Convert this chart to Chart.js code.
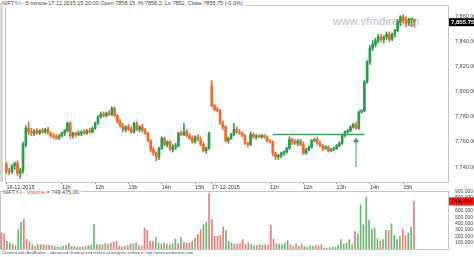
<!DOCTYPE html>
<html>
<head>
<meta charset="utf-8">
<script src="https://cdn.jsdelivr.net/npm/chart.js@4.4.0/dist/chart.umd.min.js"></script>
<style>
  body { margin: 0; background: #fff; width: 474px; height: 257px; overflow: hidden; position: relative; font-family: "Liberation Sans", Arial, sans-serif; }
  .box { position: absolute; left: 0; width: 474px; }
  .txt { position: absolute; white-space: nowrap; color: #333; }
  #strip { position: absolute; left: 0; top: 3px; width: 3px; height: 179px; background: #d9d9d9; }
  #wm { left: 333px; top: 15px; font-size: 11.5px; color: #bdbdbd; }
  #title { left: 2px; top: 0; font-size: 5.5px; line-height: 7px; background: #fff; padding-right: 2px; color: #444; }
  #volTitle { left: 3px; top: 189px; font-size: 5.5px; line-height: 6px; background: #fff; padding-right: 2px; color: #444; }
  #volTitle span { color: #f04848; }
  #foot { left: 2px; top: 250px; font-size: 4.2px; line-height: 6px; color: #555; }
</style>
</head>
<body>
<div id="strip"></div>
<div class="txt" id="wm">www.vfmdirect.in</div>
<div class="box" style="top:0;height:190px"><canvas id="priceChart" width="474" height="190"></canvas></div>
<div class="box" style="top:186px;height:64px"><canvas id="volChart" width="474" height="64"></canvas></div>
<div class="txt" id="title">NIFTY-I - 5 minute 17.12.2015 15:20:00 Open 7858.15, Hi 7858.2, Lo 7852, Close 7855.75 (-0.0%)</div>
<div class="txt" id="volTitle">NIFTY-I - <span>Volume</span> = 749,475.00</div>
<div class="txt" id="foot">Created with AmiBroker - advanced charting and technical analysis software. http://www.amibroker.com</div>
<script>
// two sessions of 5 minute bars
const days = ["16-12-2015", "17-12-2015"];
const firstBar = ["09:20", "09:15"];
const barsPerDay = [74, 74];
const emptyBars = 12;
const hourTicks = ["11:00", "12:00", "13:00", "14:00", "15:00"];
const hourNames = ["11h", "12h", "13h", "14h", "15h"];
const priceTicks = [7740, 7760, 7780, 7800, 7820, 7840, 7860];
const volumeTicks = [100000, 200000, 300000, 400000, 500000, 600000, 700000, 800000, 900000];

const open = [
  7742, 7737, 7736, 7741, 7743, 7735, 7737, 7758, 7771, 7768, 7767, 7769, 7767, 7769, 7768, 7770, 7767, 7765, 7764, 7763,
  7765, 7767, 7769, 7775, 7765, 7767, 7766, 7767, 7768, 7767, 7769, 7768, 7771, 7775, 7780, 7782, 7781, 7783, 7782, 7787,
  7781, 7776, 7773, 7770, 7772, 7770, 7768, 7775, 7770, 7772, 7769, 7767, 7761, 7754, 7751, 7748, 7755, 7763, 7758, 7760,
  7754, 7756, 7757, 7767, 7766, 7768, 7765, 7763, 7760, 7764, 7762, 7758, 7753, 7755,
  7805, 7789, 7786, 7785, 7775, 7772, 7761, 7763, 7766, 7770, 7768, 7767, 7765, 7759, 7758, 7766, 7764, 7765, 7764, 7765,
  7764, 7761, 7760, 7751, 7748, 7749, 7751, 7752, 7755, 7762, 7760, 7759, 7761, 7758, 7751, 7754, 7756, 7761, 7762, 7759,
  7757, 7755, 7756, 7753, 7754, 7755, 7757, 7759, 7765, 7768, 7769, 7772, 7774, 7771, 7784, 7785, 7808, 7824, 7835, 7838,
  7841, 7844, 7842, 7844, 7846, 7842, 7846, 7849, 7856, 7860, 7857, 7855, 7858, 7858.15
];
const high = [
  7744, 7739, 7742, 7744, 7745, 7739, 7760, 7773, 7776, 7771, 7770, 7771, 7770, 7771, 7771, 7772, 7768, 7767, 7766, 7766,
  7768, 7770, 7776, 7776, 7768, 7768, 7769, 7769, 7770, 7770, 7771, 7772, 7776, 7781, 7784, 7784, 7784, 7785, 7788, 7788,
  7782, 7778, 7775, 7773, 7774, 7772, 7776, 7776, 7773, 7774, 7771, 7768, 7762, 7756, 7752, 7756, 7764, 7764, 7761, 7761,
  7758, 7759, 7768, 7769, 7775, 7770, 7767, 7765, 7765, 7766, 7764, 7760, 7756, 7768,
  7809, 7790, 7788, 7786, 7777, 7773, 7764, 7767, 7775, 7772, 7770, 7768, 7766, 7760, 7768, 7767, 7766, 7766, 7766, 7766,
  7765, 7762, 7761, 7752, 7750, 7752, 7753, 7756, 7764, 7763, 7762, 7762, 7762, 7760, 7755, 7757, 7762, 7763, 7764, 7761,
  7758, 7757, 7757, 7755, 7756, 7758, 7760, 7766, 7769, 7770, 7773, 7775, 7776, 7785, 7786, 7809, 7825, 7837, 7841, 7843,
  7846, 7846, 7845, 7848, 7848, 7847, 7850, 7858, 7861, 7862, 7860, 7859, 7859, 7858.2
];
const low = [
  7735, 7734, 7735, 7738, 7733, 7731, 7735, 7756, 7766, 7765, 7765, 7766, 7766, 7767, 7767, 7766, 7764, 7763, 7762, 7762,
  7764, 7765, 7768, 7763, 7763, 7764, 7765, 7765, 7766, 7766, 7767, 7767, 7770, 7774, 7779, 7780, 7780, 7781, 7781, 7780,
  7775, 7772, 7768, 7768, 7769, 7767, 7767, 7769, 7768, 7768, 7766, 7760, 7752, 7749, 7745, 7746, 7754, 7757, 7756, 7753,
  7752, 7754, 7756, 7765, 7765, 7764, 7762, 7759, 7759, 7761, 7757, 7752, 7751, 7754,
  7788, 7785, 7784, 7774, 7770, 7760, 7759, 7762, 7765, 7767, 7766, 7764, 7758, 7756, 7757, 7763, 7762, 7763, 7763, 7763,
  7760, 7759, 7749, 7746, 7746, 7747, 7749, 7751, 7754, 7758, 7758, 7757, 7757, 7750, 7750, 7753, 7755, 7760, 7758, 7756,
  7753, 7754, 7752, 7752, 7753, 7754, 7756, 7758, 7764, 7767, 7768, 7771, 7770, 7770, 7783, 7784, 7807, 7822, 7833, 7836,
  7839, 7840, 7839, 7842, 7840, 7841, 7844, 7848, 7853, 7855, 7852, 7853, 7852, 7852
];
const close = [
  7737, 7736, 7741, 7743, 7735, 7737, 7758, 7771, 7768, 7767, 7769, 7767, 7769, 7768, 7770, 7767, 7765, 7764, 7763, 7765,
  7767, 7769, 7775, 7765, 7767, 7766, 7767, 7768, 7767, 7769, 7768, 7771, 7775, 7780, 7782, 7781, 7783, 7782, 7787, 7781,
  7776, 7773, 7770, 7772, 7770, 7768, 7775, 7770, 7772, 7769, 7767, 7761, 7754, 7751, 7748, 7755, 7763, 7758, 7760, 7754,
  7756, 7757, 7767, 7766, 7768, 7765, 7763, 7760, 7764, 7762, 7758, 7753, 7755, 7767,
  7789, 7786, 7785, 7775, 7772, 7761, 7763, 7766, 7770, 7768, 7767, 7765, 7759, 7758, 7766, 7764, 7765, 7764, 7765, 7764,
  7761, 7760, 7751, 7748, 7749, 7751, 7752, 7755, 7762, 7760, 7759, 7761, 7758, 7751, 7754, 7756, 7761, 7762, 7759, 7757,
  7755, 7756, 7753, 7754, 7755, 7757, 7759, 7765, 7768, 7769, 7772, 7774, 7771, 7784, 7785, 7808, 7824, 7835, 7838, 7841,
  7844, 7842, 7844, 7846, 7842, 7846, 7849, 7856, 7860, 7857, 7855, 7858, 7858.15, 7855.75
];
const volume = [
  252000, 236000, 121000, 94000, 79000, 52000, 304000, 425000, 472000, 157000,
  110000, 68000, 42000, 68000, 68000, 68000, 58000, 58000, 52000, 42000,
  31000, 31000, 42000, 58000, 84000, 42000, 42000, 26000, 31000, 31000,
  42000, 52000, 63000, 383000, 68000, 68000, 68000, 84000, 79000, 94000,
  105000, 121000, 42000, 31000, 42000, 52000, 79000, 84000, 94000, 52000,
  42000, 330000, 294000, 121000, 121000, 183000, 94000, 79000, 94000, 79000,
  68000, 84000, 157000, 84000, 183000, 105000, 94000, 94000, 121000, 173000,
  225000, 304000, 383000, 419000,
  870000, 461000, 199000, 199000, 215000, 346000, 293000,
  121000, 94000, 79000, 79000, 84000, 147000, 68000, 94000, 68000, 52000,
  58000, 68000, 58000, 68000, 63000, 372000, 157000, 84000, 79000, 68000,
  94000, 131000, 68000, 42000, 79000, 42000, 79000, 42000, 31000, 52000,
  42000, 52000, 52000, 68000, 16000, 16000, 21000, 26000, 31000, 52000,
  147000, 79000, 94000, 147000, 68000, 278000, 236000, 697000, 383000, 812000,
  451000, 314000, 330000, 162000, 121000, 147000, 294000, 294000, 398000, 215000,
  157000, 199000, 314000, 210000, 252000, 346000, 749475
];

// breakout line and arrow drawn on the price panel
const breakout = 7766, breakoutFrom = 96, breakoutTo = 129;
const arrowBar = 126, arrowFrom = 7740, arrowTo = 7761;

// category labels, one per bar, plus empty bars on the right
const labels = [];
const tickText = {};
days.forEach((d, k) => {
  let [h, m] = firstBar[k].split(":").map(Number);
  for (let i = 0; i < barsPerDay[k]; i++) {
    const t = String(h).padStart(2, "0") + ":" + String(m).padStart(2, "0");
    if (i === 0) tickText[labels.length] = d;
    else if (hourTicks.includes(t)) tickText[labels.length] = hourNames[hourTicks.indexOf(t)];
    labels.push(d + " " + t);
    m += 5;
    if (m >= 60) { m -= 60; h++; }
  }
});
for (let i = 0; i < emptyBars; i++) labels.push("empty " + i);

const up = close.map((c, i) => c >= open[i]);
const candleColor = up.map(u => u ? "#2a9d4c" : "#f2692b");
const volColor = up.map(u => u ? "#69b86b" : "#ec7b7b");
const green = "#3f9f5c";
const font = "'Liberation Sans', Arial, sans-serif";

const fmt = (v, d) => v.toLocaleString("en-US", { minimumFractionDigits: d, maximumFractionDigits: d });

// keep the plot area where the layout padding puts it
const noPad = s => { s.paddingTop = 0; s.paddingBottom = 0; s.paddingLeft = 0; s.paddingRight = 0; };

const frame = {
  id: "frame",
  beforeDatasetsDraw(chart) {
    const a = chart.chartArea, c = chart.ctx;
    c.save();
    c.strokeStyle = "#c6c6c6";
    c.lineWidth = 1;
    c.strokeRect(a.left + 0.5, a.top + 0.5, a.width - 1, a.height);
    c.restore();
  }
};

function lastLabel(value, text, bg, fg) {
  return {
    id: "lastLabel",
    afterDraw(chart) {
      const c = chart.ctx, x = chart.chartArea.right;
      const y = chart.scales.y.getPixelForValue(value);
      c.save();
      c.fillStyle = bg;
      c.fillRect(x, y - 4, chart.width - x, 8);
      c.fillStyle = fg;
      c.font = "bold 6px " + font;
      c.textBaseline = "middle";
      c.fillText(text, x + 2, y + 0.5);
      c.restore();
    }
  };
}

Chart.defaults.font.family = font;
Chart.defaults.animation = false;

const last = close.length - 1;

new Chart(document.getElementById("priceChart"), {
  type: "bar",
  data: {
    labels: labels,
    datasets: [
      {
        data: open.map((o, i) => [o, close[i]]),
        backgroundColor: candleColor,
        barThickness: 2,
        minBarLength: 1,
        grouped: false,
        order: 1
      },
      {
        data: low.map((l, i) => [l, high[i]]),
        backgroundColor: candleColor,
        barThickness: 1,
        grouped: false,
        order: 2
      },
      {
        type: "line",
        data: [{ x: labels[breakoutFrom], y: breakout }, { x: labels[breakoutTo], y: breakout }],
        borderColor: green,
        borderWidth: 1.5,
        pointRadius: 0,
        order: 0
      },
      {
        type: "line",
        data: [{ x: labels[arrowBar], y: arrowFrom }, { x: labels[arrowBar], y: arrowTo }],
        borderColor: green,
        backgroundColor: green,
        borderWidth: 1,
        pointStyle: "triangle",
        pointRadius: [0, 2.5],
        order: 0
      }
    ]
  },
  plugins: [frame, lastLabel(close[last], fmt(close[last], 2), "#000", "#fff")],
  options: {
    responsive: false,
    layout: { padding: { top: 3, left: 0, right: 0, bottom: 0 } },
    plugins: { legend: { display: false }, tooltip: { enabled: false } },
    scales: {
      x: {
        type: "category",
        offset: true,
        grid: { display: true, drawOnChartArea: false, drawTicks: true, tickLength: 2, color: "#888", offset: false },
        border: { display: false },
        afterBuildTicks: s => { s.ticks = s.ticks.filter(t => tickText[t.value] !== undefined); },
        afterFit: s => { s.height = 8; noPad(s); },
        ticks: {
          autoSkip: false,
          maxRotation: 0,
          align: "start",
          padding: 0,
          color: "#333",
          font: { size: 5.5 },
          callback: v => tickText[v]
        }
      },
      y: {
        position: "right",
        min: 7728,
        max: 7869.5,
        grid: { display: false, drawTicks: false },
        border: { display: false },
        afterBuildTicks: s => { s.ticks = priceTicks.map(v => ({ value: v })); },
        afterFit: s => { s.width = 25; noPad(s); },
        ticks: { autoSkip: false, color: "#444", padding: 6, font: { size: 5.5 }, callback: v => fmt(v, 2) }
      }
    }
  }
});

new Chart(document.getElementById("volChart"), {
  type: "bar",
  data: {
    labels: labels,
    datasets: [{
      data: volume,
      backgroundColor: volColor,
      barThickness: 1,
      grouped: false
    }]
  },
  plugins: [frame, lastLabel(volume[last], fmt(volume[last], 0), "#f01818", "#600")],
  options: {
    responsive: false,
    layout: { padding: { top: 5, left: 0, right: 0, bottom: 1 } },
    plugins: { legend: { display: false }, tooltip: { enabled: false } },
    scales: {
      x: { type: "category", offset: true, display: false },
      y: {
        position: "right",
        min: 0,
        max: 912000,
        grid: { display: false, drawTicks: false },
        border: { display: false },
        afterBuildTicks: s => { s.ticks = volumeTicks.map(v => ({ value: v })); },
        afterFit: s => { s.width = 25; noPad(s); },
        ticks: { autoSkip: false, color: "#444", padding: 6, font: { size: 5 }, callback: v => fmt(v, 0) }
      }
    }
  }
});
</script>
</body>
</html>
